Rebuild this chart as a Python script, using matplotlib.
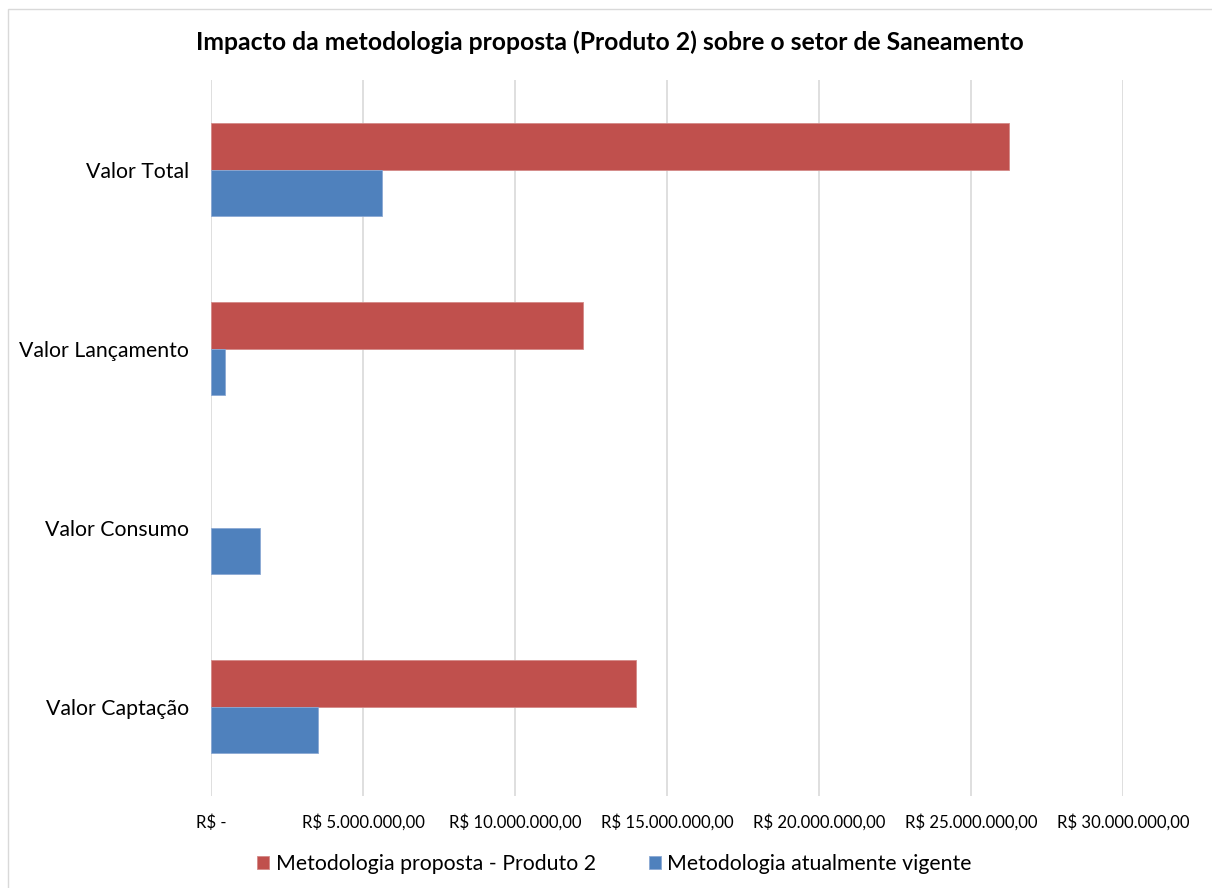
import numpy as np
import matplotlib
matplotlib.use("Agg")
from matplotlib import pyplot as plt
from matplotlib.ticker import FuncFormatter, MultipleLocator
from matplotlib.patches import Rectangle

plt.rcParams['font.family'] = ['Lato', 'DejaVu Sans']

categorias = ["Valor Captação", "Valor Consumo", "Valor Lançamento", "Valor Total"]
proposta = [13.98e6, 0.0, 12.24e6, 26.25e6]
vigente = [3.52e6, 1.61e6, 0.46e6, 5.63e6]
serie_proposta = "Metodologia proposta - Produto 2"
serie_vigente = "Metodologia atualmente vigente"
titulo = "Impacto da metodologia proposta (Produto 2) sobre o setor de Saneamento"

red = "#C0504D"
blue = "#4F81BD"

fig = plt.figure(figsize=(12.12, 8.88), dpi=100)
ax = fig.add_axes([0.1741, 0.1036, 0.7525, 0.8063])

y = np.arange(len(categorias))
h = 0.262
ax.barh(y + h / 2, proposta, height=h, color=red, edgecolor="#D48A88",
        linewidth=[0.6 if v else 0 for v in proposta], label=serie_proposta, zorder=3)
ax.barh(y - h / 2, vigente, height=h, color=blue, edgecolor="#8BA9D4",
        linewidth=[0.6 if v else 0 for v in vigente], label=serie_vigente, zorder=3)

ax.set_ylim(-0.5, len(categorias) - 0.5)
ax.set_xlim(0, 30e6)
ax.set_yticks(y)
ax.set_yticklabels(categorias, fontsize=15.3, color="#000000")
ax.xaxis.set_major_locator(MultipleLocator(5e6))


def brl(v, pos):
    if v == 0:
        return "R$ -"
    s = f"{v:,.2f}".replace(",", "X").replace(".", ",").replace("X", ".")
    return "R$ " + s


ax.xaxis.set_major_formatter(FuncFormatter(brl))
ax.tick_params(axis="x", labelsize=12.1, length=0, pad=13, colors="#000000")
ax.tick_params(axis="y", length=0, pad=16)
ax.grid(axis="x", color="#D9D9D9", linewidth=1.2, zorder=0)
for s in ax.spines.values():
    s.set_visible(False)

fig.text(0.503, 0.952, titulo, ha="center", va="center", fontsize=17.8, fontweight="bold")

fig.legend(loc="center", bbox_to_anchor=(0.507, 0.027), ncol=2, frameon=False,
           fontsize=15.3, handlelength=0.56, handleheight=0.56, handletextpad=0.3,
           columnspacing=2.5)

fig.patches.append(Rectangle((8 / 1212, -0.1), 1.2, 1 - 9 / 888 + 0.1,
                             transform=fig.transFigure, fill=False,
                             edgecolor="#D9D9D9", linewidth=1.0))

fig.savefig("out.png", dpi=100, facecolor="white")
